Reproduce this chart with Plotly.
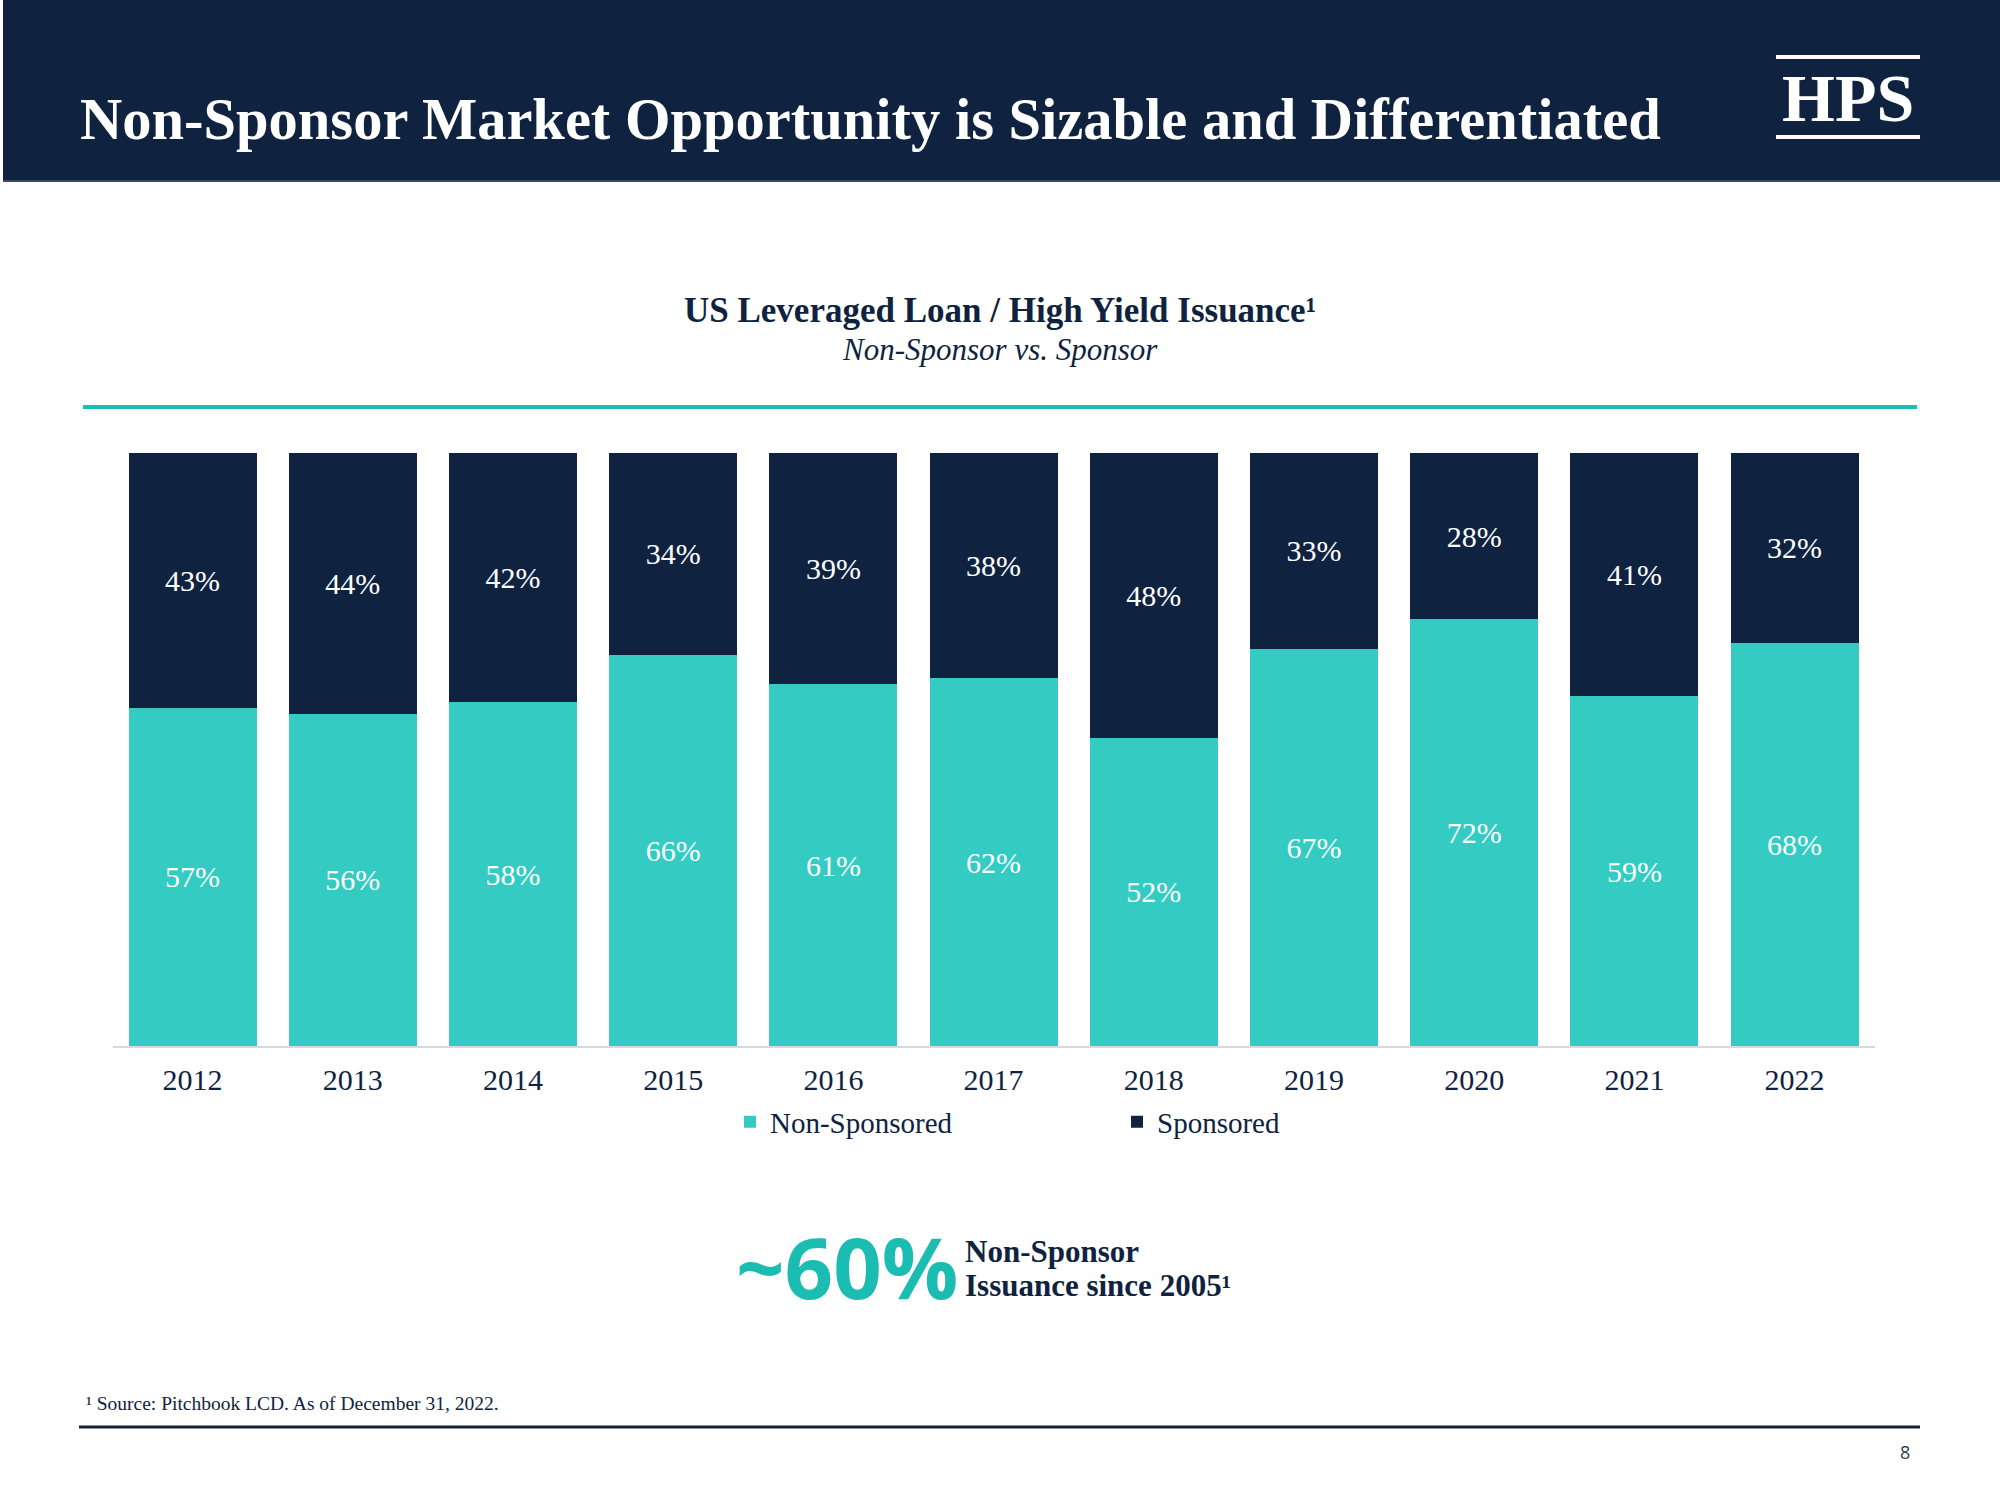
import plotly.graph_objects as go

years = ["2012", "2013", "2014", "2015", "2016", "2017", "2018", "2019", "2020", "2021", "2022"]
non_sponsored = [57, 56, 58, 66, 61, 62, 52, 67, 72, 59, 68]
sponsored = [43, 44, 42, 34, 39, 38, 48, 33, 28, 41, 32]

NAVY = "#0F2341"
TEAL = "#34CBC2"
TEAL_DARK = "#1BBDB3"
SERIF = "Liberation Serif"
W, H = 2000, 1500

def px(x):
    return x / W

def py(y):
    return 1 - y / H

fig = go.Figure()
fig.add_trace(go.Bar(
    x=years, y=non_sponsored, name="Non-Sponsored",
    marker=dict(color=TEAL, line=dict(width=0)),
    text=[f"{v}%" for v in non_sponsored], textposition="inside",
    insidetextanchor="middle", textangle=0,
    textfont=dict(family=SERIF, size=30, color="white"),
))
fig.add_trace(go.Bar(
    x=years, y=sponsored, name="Sponsored",
    marker=dict(color=NAVY, line=dict(width=0)),
    text=[f"{v}%" for v in sponsored], textposition="inside",
    insidetextanchor="middle", textangle=0,
    textfont=dict(family=SERIF, size=30, color="white"),
))

shapes = [
    # header band
    dict(type="rect", xref="paper", yref="paper", x0=px(3), x1=1, y0=py(180), y1=1,
         fillcolor=NAVY, line=dict(width=0), layer="below"),
    dict(type="line", xref="paper", yref="paper", x0=px(3), x1=1, y0=py(181), y1=py(181),
         line=dict(color="#3C4A60", width=2)),
    # logo lines
    dict(type="line", xref="paper", yref="paper", x0=px(1776), x1=px(1920), y0=py(57), y1=py(57),
         line=dict(color="white", width=4)),
    dict(type="line", xref="paper", yref="paper", x0=px(1776), x1=px(1920), y0=py(137), y1=py(137),
         line=dict(color="white", width=4)),
    # teal rule under chart title
    dict(type="line", xref="paper", yref="paper", x0=px(83), x1=px(1917), y0=py(407), y1=py(407),
         line=dict(color=TEAL_DARK, width=4)),
    # footer rule
    dict(type="line", xref="paper", yref="paper", x0=px(79), x1=px(1920), y0=py(1427), y1=py(1427),
         line=dict(color="#13243A", width=3)),
]

annotations = [
    dict(text="<b>Non-Sponsor Market Opportunity is Sizable and Differentiated</b>",
         x=px(78), y=py(120), xanchor="left", yanchor="middle",
         font=dict(family=SERIF, size=58.5, color="white")),
    dict(text="<b>HPS</b>", x=px(1848), y=py(98), xanchor="center", yanchor="middle",
         font=dict(family=SERIF, size=68, color="white")),
    dict(text="<b>US Leveraged Loan / High Yield Issuance¹</b>", x=0.5, y=py(310),
         xanchor="center", yanchor="middle",
         font=dict(family=SERIF, size=35, color=NAVY)),
    dict(text="<i>Non-Sponsor vs. Sponsor</i>", x=0.5, y=py(349),
         xanchor="center", yanchor="middle",
         font=dict(family=SERIF, size=31, color=NAVY)),
    dict(text="<b>~60%</b>", x=px(960), y=py(1266), xanchor="right", yanchor="middle",
         font=dict(family="Open Sans", size=85, color=TEAL_DARK)),
    dict(text="<b>Non-Sponsor</b>", x=px(963), y=py(1251), xanchor="left", yanchor="middle",
         font=dict(family=SERIF, size=31, color=NAVY)),
    dict(text="<b>Issuance since 2005¹</b>", x=px(963), y=py(1285), xanchor="left", yanchor="middle",
         font=dict(family=SERIF, size=31, color=NAVY)),
    dict(text="¹ Source: Pitchbook LCD. As of December 31, 2022.", x=px(84), y=py(1403),
         xanchor="left", yanchor="middle",
         font=dict(family=SERIF, size=19.5, color=NAVY)),
    dict(text="8", x=px(1912), y=py(1452), xanchor="right", yanchor="middle",
         font=dict(family="Open Sans", size=18, color="#333A4A")),
]
for a in annotations:
    a.update(xref="paper", yref="paper", showarrow=False)

fig.update_layout(
    width=W, height=H,
    margin=dict(l=0, r=0, t=0, b=0),
    paper_bgcolor="white", plot_bgcolor="white",
    barmode="stack", bargap=0.2,
    shapes=shapes, annotations=annotations,
    legend=dict(
        orientation="h", x=px(730), xanchor="left", y=py(1122), yanchor="middle",
        font=dict(family=SERIF, size=29, color=NAVY),
        entrywidth=342, entrywidthmode="pixels", itemwidth=30,
        bgcolor="rgba(0,0,0,0)", traceorder="normal",
    ),
    xaxis=dict(
        domain=[px(112.5), px(1874.7)], type="category",
        showline=True, linecolor="#D9D9D9", linewidth=2,
        showgrid=False, zeroline=False, ticks="",
        tickfont=dict(family=SERIF, size=30, color=NAVY),
        ticklabelstandoff=6,
    ),
    yaxis=dict(
        domain=[py(1046), py(453)], range=[0, 100],
        showticklabels=False, showgrid=False, zeroline=False, showline=False,
    ),
)

fig.write_html("out.html", config={"displayModeBar": False},
               post_script="document.body.style.margin='0';")
